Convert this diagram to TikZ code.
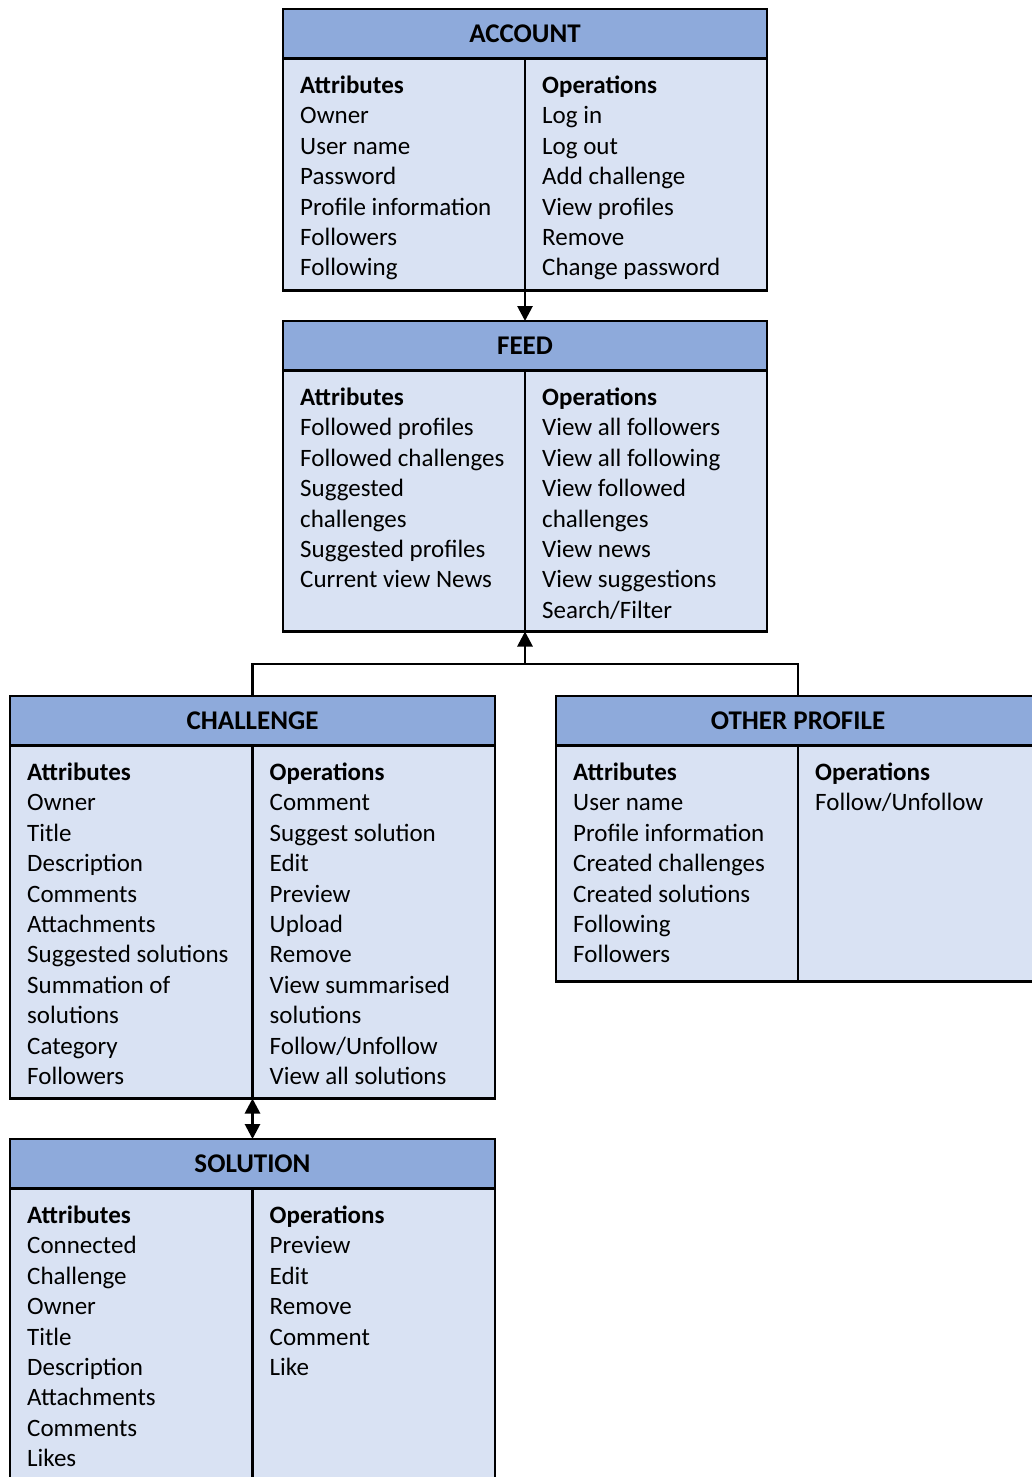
\documentclass[tikz,border=0pt]{standalone}
\usepackage{fontspec}
\setmainfont{Carlito}
\usetikzlibrary{arrows.meta,calc}

\definecolor{hdrblue}{HTML}{8EAADB}
\definecolor{bodyblue}{HTML}{D9E2F3}

\tikzset{
  hdr/.style={draw, fill=hdrblue, line width=2.4pt, outer sep=0pt, inner sep=0pt,
              minimum height=49.5pt, font=\fontsize{27}{32}\selectfont\bfseries},
  bodyb/.style={draw, fill=bodyblue, line width=2.4pt, outer sep=0pt, inner sep=0pt},
  txt/.style={anchor=base west, inner sep=0pt, align=left,
              font=\fontsize{25}{30.4}\selectfont},
  link/.style={line width=2.8pt},
  arr/.style={link, -{Triangle[length=15pt,width=15pt]}},
  dblarr/.style={link, {Triangle[length=15pt,width=15pt]}-{Triangle[length=15pt,width=15pt]}}
}

% one class box: header, attribute half, operation half, and the two text columns
% #1 name, #2 x, #3 y, #4 width, #5 body height, #6 title, #7 attributes, #8 operations
\newcommand\umlclass[8]{%
  \node[hdr, minimum width=#4, anchor=north west] (#1) at (#2,#3) {\raisebox{-1pt}{#6}};
  \node[bodyb, minimum width=#4/2, minimum height=#5, anchor=north west] (#1-a) at (#1.south west) {};
  \node[bodyb, minimum width=#4/2, minimum height=#5, anchor=north east] (#1-o) at (#1.south east) {};
  \node[txt] (#1-at) at ($(#1-a.north west)+(17,35)$)
    {\begin{tabular}[t]{@{}l@{}}\textbf{Attributes}\\#7\end{tabular}};
  \node[txt] (#1-ot) at ($(#1-o.north west)+(17,35)$)
    {\begin{tabular}[t]{@{}l@{}}\textbf{Operations}\\#8\end{tabular}};
}

\begin{document}
\begin{tikzpicture}[x=1pt,y=-1pt]
\useasboundingbox (0,0) rectangle (1031,1477);

\umlclass{acc}{283}{9}{484}{232}{ACCOUNT}
  {Owner\\User name\\Password\\Profile information\\Followers\\Following}
  {Log in\\Log out\\Add challenge\\View profiles\\Remove\\Change password}

\umlclass{feed}{283}{321}{484}{261}{FEED}
  {Followed profiles\\Followed challenges\\Suggested\\challenges\\Suggested profiles\\Current view News}
  {View all followers\\View all following\\View followed\\challenges\\View news\\View suggestions\\Search/Filter}

\umlclass{chal}{10}{696}{485}{353}{CHALLENGE}
  {Owner\\Title\\Description\\Comments\\Attachments\\Suggested solutions\\Summation of\\solutions\\Category\\Followers}
  {Comment\\Suggest solution\\Edit\\Preview\\Upload\\Remove\\View summarised\\solutions\\Follow/Unfollow\\View all solutions}

\umlclass{oth}{556}{696}{484}{236}{OTHER PROFILE}
  {User name\\Profile information\\Created challenges\\Created solutions\\Following\\Followers}
  {Follow/Unfollow}

\umlclass{sol}{10}{1139}{485}{400}{SOLUTION}
  {Connected\\Challenge\\Owner\\Title\\Description\\Attachments\\Comments\\Likes}
  {Preview\\Edit\\Remove\\Comment\\Like}

% connectors
\draw[arr] (acc-a.south east) -- (feed.north);
\coordinate (junc) at (525,664);
\draw[link] (chal.north) |- (junc) -| (oth.north);
\draw[arr] (junc) -- (feed-a.south east);
\draw[dblarr] (chal-a.south east) -- (sol.north);
\end{tikzpicture}
\end{document}
